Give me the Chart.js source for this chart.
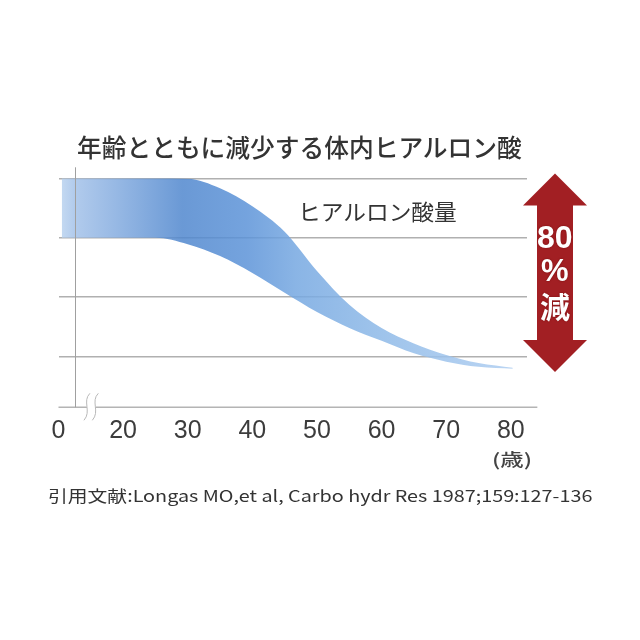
<!DOCTYPE html>
<html lang="ja">
<head>
<meta charset="utf-8">
<script src="https://cdn.jsdelivr.net/npm/chart.js@4.4.1/dist/chart.umd.min.js"></script>
<style>
html, body { margin: 0; padding: 0; background: #fff; }
#wrap { position: relative; width: 640px; height: 640px; overflow: hidden; }
#chart { position: absolute; left: 0; top: 0; }
.txt { position: absolute; white-space: nowrap; line-height: 1; color: #333;
       font-family: "Noto Sans CJK JP", "Noto Sans", sans-serif; transform-origin: 0 50%; }
.arrowTxt { color: #fff; font-weight: 700; font-family: "Liberation Sans", Arial, sans-serif;
            text-shadow: 0 0 2px rgba(110, 10, 10, 0.8); }
</style>
</head>
<body>
<div id="wrap">
  <canvas id="chart" width="640" height="640"></canvas>
  <div id="title" class="txt" style="font-size:25px;font-weight:500">年齢とともに減少する体内ヒアルロン酸</div>
  <div id="bandLabel" class="txt" style="font-size:22px">ヒアルロン酸量</div>
  <div id="unit" class="txt" style="font-size:17px;color:#444;font-weight:500">(歳)</div>
  <div id="pct80" class="txt arrowTxt" style="font-size:32px">80</div>
  <div id="pctSign" class="txt arrowTxt" style="font-size:31px">%</div>
  <div id="pctGen" class="txt arrowTxt" style="font-size:30px;font-family:'Noto Sans CJK JP',sans-serif">減</div>
  <div id="source" class="txt" style="font-size:16px">引用文献:Longas MO,et al, Carbo hydr Res 1987;159:127-136</div>
</div>
<script>
// データ
const ages = [10.5, 15, 20, 25, 30, 35, 40, 45, 50, 55, 60, 65, 70, 75, 80.3];
const upperAmount = [100, 100, 100, 100, 99.8, 95.8, 88.2, 77.5, 61, 46.8, 37, 30.5, 25.7, 22.3, 20.3];
const lowerAmount = [75, 75, 75, 75, 72.3, 67.3, 60.2, 51.9, 43.8, 37.1, 31.7, 26.4, 22.9, 20.7, 19.9];
const xTicks = [10, 20, 30, 40, 50, 60, 70, 80];
const xTickLabels = ['0', '20', '30', '40', '50', '60', '70', '80'];
const yGridValues = [25, 50, 75, 100];
const arrowFrom = 102;
const arrowTo = 18.5;

const toPoints = (vals) => ages.map((a, i) => ({ x: a, y: vals[i] }));

const bandFill = (ctx) => {
    const chart = ctx.chart;
    if (!chart.chartArea) return 'rgba(120,165,220,0.85)';
    const xs = chart.scales.x;
    const g = chart.ctx.createLinearGradient(xs.getPixelForValue(10), 0, xs.getPixelForValue(81), 0);
    g.addColorStop(0, 'rgba(190,214,240,0.85)');
    g.addColorStop(0.035, 'rgba(164,194,233,0.85)');
    g.addColorStop(0.13, 'rgba(131,171,223,0.85)');
    g.addColorStop(0.27, 'rgba(80,135,206,0.85)');
    g.addColorStop(0.41, 'rgba(92,147,216,0.85)');
    g.addColorStop(0.52, 'rgba(118,168,225,0.85)');
    g.addColorStop(0.69, 'rgba(140,184,231,0.85)');
    g.addColorStop(1, 'rgba(175,206,241,0.85)');
    return g;
};

// 軸線・波線・矢印
const decor = {
    id: 'decor',
    afterDraw(chart) {
        const { ctx, chartArea, scales: { x, y } } = chart;
        ctx.save();
        // 下の線
        ctx.strokeStyle = '#b4b4b4';
        ctx.lineWidth = 1.5;
        ctx.beginPath();
        ctx.moveTo(x.getPixelForValue(10), chartArea.bottom);
        ctx.lineTo(x.getPixelForValue(84.1), chartArea.bottom);
        ctx.stroke();
        // 縦軸
        const ax = Math.round(x.getPixelForValue(12.55)) + 0.5;
        ctx.strokeStyle = '#a0a0a0';
        ctx.lineWidth = 1;
        ctx.beginPath();
        ctx.moveTo(ax, chartArea.top - 11);
        ctx.lineTo(ax, chartArea.bottom);
        ctx.stroke();
        // 省略の波線
        const b1 = x.getPixelForValue(14.4), b2 = x.getPixelForValue(15.7);
        const by = chartArea.bottom;
        ctx.fillStyle = '#fff';
        ctx.fillRect(b1, by - 3, b2 - b1, 6);
        ctx.strokeStyle = '#b8b8b8';
        [b1, b2].forEach(bx => {
            ctx.beginPath();
            ctx.moveTo(bx + 3, by - 14);
            ctx.bezierCurveTo(bx - 5, by - 6, bx + 5, by + 4, bx - 3, by + 13);
            ctx.stroke();
        });
        // 赤い両矢印
        const cx = chartArea.right + 28;
        const top = y.getPixelForValue(arrowFrom), bot = y.getPixelForValue(arrowTo);
        const head = 32, half = 32, shaft = 18;
        ctx.fillStyle = '#a21f23';
        ctx.beginPath();
        ctx.moveTo(cx, top);
        ctx.lineTo(cx + half, top + head);
        ctx.lineTo(cx + shaft, top + head);
        ctx.lineTo(cx + shaft, bot - head);
        ctx.lineTo(cx + half, bot - head);
        ctx.lineTo(cx, bot);
        ctx.lineTo(cx - half, bot - head);
        ctx.lineTo(cx - shaft, bot - head);
        ctx.lineTo(cx - shaft, top + head);
        ctx.lineTo(cx - half, top + head);
        ctx.closePath();
        ctx.fill();
        ctx.restore();
    }
};

const chart = new Chart(document.getElementById('chart'), {
    type: 'line',
    data: {
        datasets: [{
            data: toPoints(upperAmount),
            borderWidth: 0,
            pointRadius: 0,
            cubicInterpolationMode: 'monotone',
            fill: false
        }, {
            data: toPoints(lowerAmount),
            borderWidth: 0,
            pointRadius: 0,
            cubicInterpolationMode: 'monotone',
            fill: '-1',
            backgroundColor: bandFill
        }]
    },
    options: {
        responsive: false,
        animation: false,
        layout: { padding: { left: 58.5, right: 113, top: 178.3, bottom: 0 } },
        plugins: { legend: { display: false }, tooltip: { enabled: false } },
        scales: {
            x: {
                type: 'linear', min: 10, max: 82.5,
                afterBuildTicks: s => { s.ticks = xTicks.map(v => ({ value: v })); },
                afterFit: s => { s.height = 640 - 407.3; },
                grid: { display: false, drawTicks: false },
                border: { display: false },
                ticks: {
                    padding: 9, color: '#3c3c3c', autoSkip: false, maxRotation: 0,
                    font: { family: '"Liberation Sans", Arial, sans-serif', size: 25 },
                    callback: v => xTickLabels[xTicks.indexOf(v)]
                }
            },
            y: {
                min: 3.7, max: 100,
                afterBuildTicks: s => { s.ticks = yGridValues.map(v => ({ value: v })); },
                afterFit: s => { s.width = 0; },
                ticks: { display: false },
                grid: { color: '#b0b0b0', lineWidth: 1.5, drawTicks: false },
                border: { display: false }
            }
        }
    },
    plugins: [decor]
});

// 文字の配置
const fit = (id, left, width, cy) => {
    const el = document.getElementById(id);
    const w = el.offsetWidth, h = el.offsetHeight;
    el.style.left = left + 'px';
    el.style.top = (cy - h / 2) + 'px';
    el.style.transform = 'scaleX(' + (width / w) + ')';
};
const center = (id, cx, cy) => {
    const el = document.getElementById(id);
    el.style.left = (cx - el.offsetWidth / 2) + 'px';
    el.style.top = (cy - el.offsetHeight / 2) + 'px';
};
fit('title', 77, 445, 146);
fit('bandLabel', 298, 159, 210);
fit('source', 48, 544, 495);
fit('unit', 492, 40, 458);
center('pct80', 555, 237);
center('pctSign', 555, 270);
center('pctGen', 555, 305);
</script>
</body>
</html>
